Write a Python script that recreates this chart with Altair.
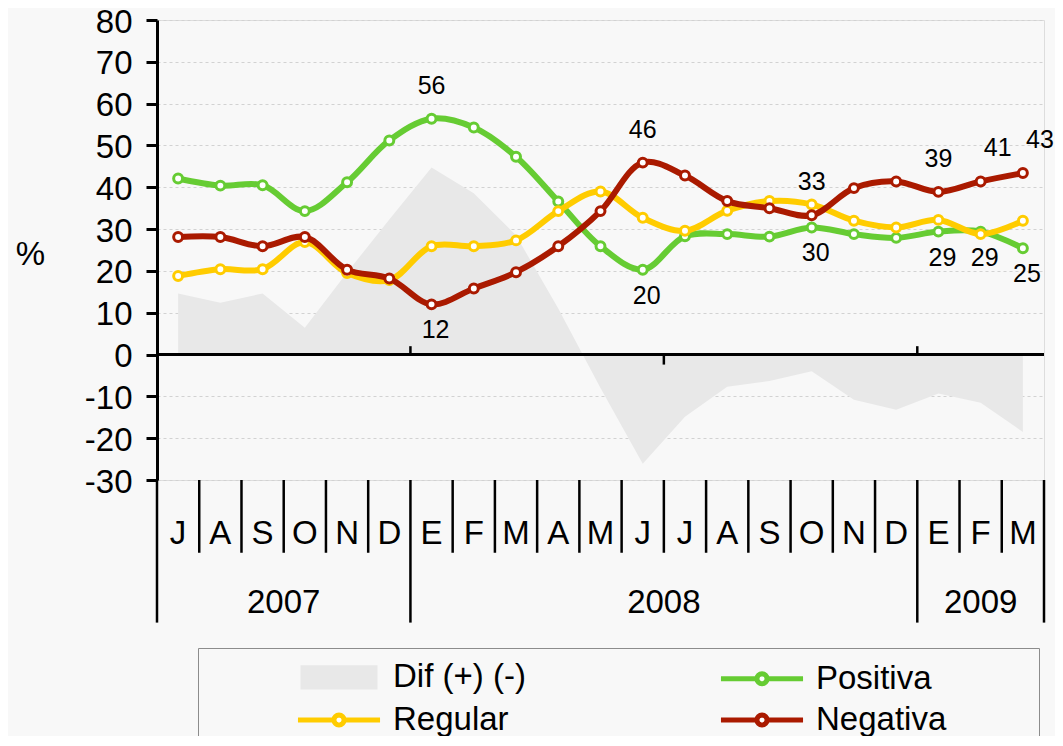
import math
import altair as alt
import pandas as pd

# ---------------- data ----------------
months = ["J", "A", "S", "O", "N", "D", "E", "F", "M", "A", "M",
          "J", "J", "A", "S", "O", "N", "D", "E", "F", "M"]
years = ["2007", "2008", "2009"]
year_first_month = [0, 6, 18]

positiva = [42.1, 40.4, 40.5, 34.3, 41.2, 51.2, 56.4, 54.3, 47.3, 36.6, 25.9,
            20.3, 28.3, 28.8, 28.2, 30.4, 28.8, 27.9, 29.4, 29.4, 25.4]
regular = [18.8, 20.4, 20.4, 26.9, 19.5, 17.8, 25.9, 25.9, 27.3, 34.3, 39.0,
           32.7, 29.6, 34.4, 36.7, 35.9, 32.0, 30.4, 32.2, 28.8, 32.0]
negativa = [28.1, 28.1, 25.9, 28.1, 20.3, 18.2, 12.0, 15.8, 19.7, 25.9, 34.3,
            45.9, 42.8, 36.7, 35.0, 33.3, 39.8, 41.4, 38.9, 41.4, 43.4]
dif = [14.6, 12.4, 14.6, 6.4, 19.6, 32.3, 44.7, 38.6, 28.5, 11.0, -8.0,
       -26.1, -14.9, -7.7, -6.3, -4.0, -10.8, -13.2, -9.3, -11.5, -18.5]

# legend order (the legend fills column by column)
series_names = ["Dif (+) (-)", "Regular", "Positiva", "Negativa"]
series_colors = ["#e8e8e8", "#ffcc00", "#66cc33", "#aa1a00"]
line_series = ["Positiva", "Regular", "Negativa"]
line_colors = ["#66cc33", "#ffcc00", "#aa1a00"]

# data labels: (series, month index)
labels_above = [("Positiva", 6), ("Negativa", 11), ("Negativa", 15), ("Negativa", 18)]
labels_above_right = [("Negativa", 19), ("Negativa", 20)]
labels_below = [("Negativa", 6), ("Positiva", 11), ("Positiva", 15),
                ("Positiva", 18), ("Positiva", 19), ("Positiva", 20)]

# ---------------- tables ----------------
idx = list(range(len(months)))
series_values = {"Positiva": positiva, "Regular": regular, "Negativa": negativa}
long_df = pd.DataFrame(
    [{"idx": i, "series": s, "value": v[i]} for s, v in series_values.items() for i in idx]
)
dif_df = pd.DataFrame({"idx": idx, "dif": dif})
month_df = pd.DataFrame({"idx": idx, "month": months})
year_end = year_first_month[1:] + [len(months)]
year_df = pd.DataFrame({
    "year": years,
    "center": [(a + b - 1) / 2 for a, b in zip(year_first_month, year_end)],
})

# category-axis geometry (in y-axis units below the plot)
AXIS_BOTTOM = -30
SHORT_END = -47.4
LONG_END = -64.1
MONTH_ROW = -42.8
YEAR_ROW = -59.3
long_bounds = set(year_first_month + [len(months)])
sep_df = pd.DataFrame({
    "xb": [k - 0.5 for k in range(len(months) + 1)],
    "y0": [AXIS_BOTTOM] * (len(months) + 1),
    "y1": [LONG_END if k in long_bounds else SHORT_END for k in range(len(months) + 1)],
})
tick_df = pd.DataFrame({"xb": [5.5, 11.5, 17.5], "y0": [0, 0, 0], "y1": [2.0, -2.4, 2.0]})


def label_rows(pairs):
    return pd.DataFrame([{"idx": i, "series": s, "value": series_values[s][i]} for s, i in pairs])


legend_df = pd.DataFrame({"series": series_names})

# ---------------- scales / axes ----------------
FONT = "Liberation Sans"
xscale = alt.Scale(domain=[-0.5, len(months) - 0.5], nice=False, zero=False)
yscale = alt.Scale(domain=[-30, 80], nice=False, zero=False)
yaxis = alt.Axis(
    values=list(range(-30, 81, 10)), labelExpr="'' + datum.value",
    grid=True, gridDash=[3, 3], gridColor="#d2d2d2",
    gridWidth=1, domainColor="black", domainWidth=3, tickColor="black", tickWidth=3,
    tickSize=11, labelFontSize=33, labelColor="black", labelPadding=14, labelOffset=2,
    labelFont=FONT, title="%", titleAngle=0, titleFontSize=33, titleFont=FONT,
    titleFontWeight="normal", titleX=-127, titleY=234, titleAlign="center",
    titleBaseline="middle", titleColor="black",
)
# line colours (only the three line series, so it is not merged with the legend scales)
line_scale = alt.Scale(domain=line_series, range=line_colors)
stroke_scale = alt.Scale(domain=series_names, range=series_colors)
fill_scale = alt.Scale(domain=series_names, range=["#e8e8e8", "#ffffff", "#ffffff", "#ffffff"])

# legend symbols: grey box, and line-with-marker (circle approximated by a 16-gon)
rect_path = "M-3.0,-0.8L3.0,-0.8L3.0,0.8L-3.0,0.8Z"
R = 0.42
ring = [(R * math.cos(2 * math.pi * k / 16), R * math.sin(2 * math.pi * k / 16)) for k in range(16)]
ring_path = "M" + "L".join(f"{px:.3f},{py:.3f}" for px, py in ring) + "Z"
line_path = f"M-3.42,0L{-R:.2f},0M{R:.2f},0L3.42,0" + ring_path
shape_scale = alt.Scale(domain=series_names, range=[rect_path, line_path, line_path, line_path])


def X(field):
    return alt.X(field, type="quantitative", scale=xscale, axis=None)


def Y(field):
    return alt.Y(field, type="quantitative", scale=yscale, axis=yaxis)


# ---------------- layers ----------------
area = alt.Chart(dif_df).mark_area(color="#e8e8e8", interpolate="linear").encode(
    x=X("idx"), y=Y("dif")
)

zero_line = alt.Chart(tick_df).mark_rule(color="black", strokeWidth=3).encode(y=Y("y0"))

zero_ticks = alt.Chart(tick_df).mark_rule(color="black", strokeWidth=2.5).encode(
    x=X("xb"), y=Y("y0"), y2=alt.Y2("y1")
)

series_layers = []
for name in line_series:
    base = alt.Chart(long_df).transform_filter(alt.datum.series == name)
    ln = base.mark_line(strokeWidth=6, interpolate="catmull-rom").encode(
        x=X("idx"), y=Y("value"),
        color=alt.Color("series:N", scale=line_scale, legend=None),
    )
    pt = base.mark_point(shape="circle", size=80, strokeWidth=3, opacity=1, filled=False).encode(
        x=X("idx"), y=Y("value"),
        color=alt.Color("series:N", scale=line_scale, legend=None),
        fill=alt.value("white"),
    )
    series_layers += [ln, pt]

lab_style = dict(fontSize=25, font=FONT, color="black", baseline="middle")
lab_above = alt.Chart(label_rows(labels_above)).mark_text(dy=-33, **lab_style).encode(
    x=X("idx"), y=Y("value"), text=alt.Text("value:Q", format=".0f"))
lab_above_r = alt.Chart(label_rows(labels_above_right)).mark_text(dy=-33, dx=17, **lab_style).encode(
    x=X("idx"), y=Y("value"), text=alt.Text("value:Q", format=".0f"))
lab_below = alt.Chart(label_rows(labels_below)).mark_text(dy=26, dx=4, **lab_style).encode(
    x=X("idx"), y=Y("value"), text=alt.Text("value:Q", format=".0f"))

# category axis (months / years)
seps = alt.Chart(sep_df).mark_rule(color="black", strokeWidth=2.5).encode(
    x=X("xb"), y=Y("y0"), y2=alt.Y2("y1"))
month_text = alt.Chart(month_df).transform_calculate(yrow=str(MONTH_ROW)).mark_text(
    fontSize=33, font=FONT, color="black", baseline="middle").encode(
    x=X("idx"), y=Y("yrow"), text="month:N")
year_text = alt.Chart(year_df).transform_calculate(yrow=str(YEAR_ROW)).mark_text(
    fontSize=33, font=FONT, color="black", baseline="middle").encode(
    x=X("center"), y=Y("yrow"), text="year:N")

# legend-only layer (stroke / fill / shape scales are used only here;
# its own marks are parked outside the canvas)
legend = alt.Legend(
    orient="none", legendX=41, legendY=628, columns=2,
    title="\u00a0", titleOrient="right", titlePadding=80, titleFontSize=33,
    padding=12.5, symbolOffset=112, symbolSize=576, symbolOpacity=1,
    symbolStrokeWidth=5, labelOffset=37.5, labelFontSize=33, labelFont=FONT,
    labelColor="black", labelLimit=400, columnPadding=107, rowPadding=6,
    strokeColor="#8c8c8c", fillColor="#f8f8f8",
)
legend_layer = alt.Chart(legend_df).mark_point().encode(
    x=alt.value(-500), y=alt.value(-500),
    stroke=alt.Stroke("series:N", scale=stroke_scale, legend=legend),
    fill=alt.Fill("series:N", scale=fill_scale, legend=legend),
    shape=alt.Shape("series:N", scale=shape_scale, legend=legend),
)

chart = alt.layer(
    area, zero_line, zero_ticks, *series_layers, lab_above, lab_above_r, lab_below,
    seps, month_text, year_text, legend_layer,
).properties(
    width=887, height=460,
    autosize=alt.AutoSizeParams(type="none"),
    padding={"left": 149, "top": 12, "right": 11, "bottom": 256},
    background="#f8f8f8",
).configure_view(stroke=None).configure(font=FONT)

chart.save("out.html", embed_options={"renderer": "svg", "actions": False})
